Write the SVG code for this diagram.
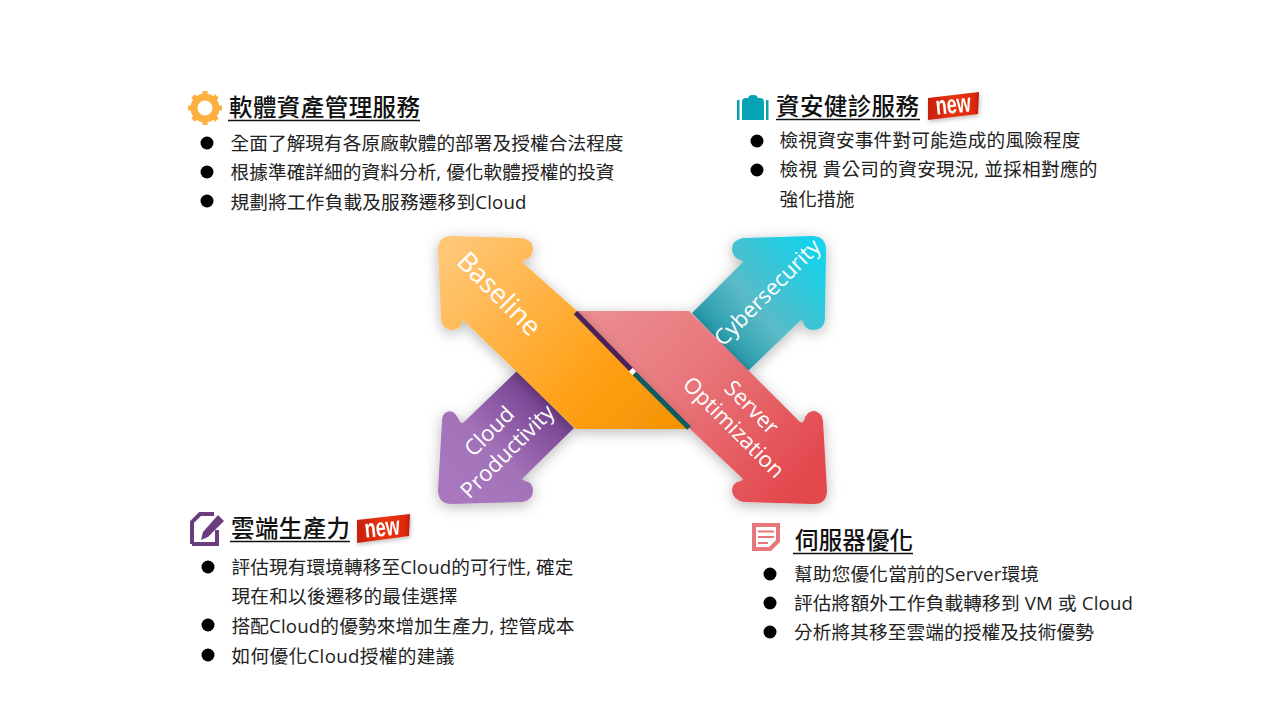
<svg xmlns="http://www.w3.org/2000/svg" width="1280" height="720" viewBox="0 0 1280 720">
<style>
.h{font-family:"Noto Sans CJK TC","Noto Sans",sans-serif;font-size:23.5px;font-weight:500;fill:#111}
.b{font-family:"Open Sans","Noto Sans CJK TC",sans-serif;font-size:18.67px;fill:#222}
.l{font-family:"Open Sans","Noto Sans",sans-serif;font-size:22px;fill:#fff;text-anchor:middle}
.u{stroke:#111;stroke-width:1.5}
.new{font-family:"Liberation Sans",sans-serif;font-size:26px;font-weight:700;fill:#fff;text-anchor:middle}
</style>
<defs>
<filter id="s" x="-30%" y="-30%" width="160%" height="160%"><feDropShadow dx="0" dy="3" stdDeviation="7" flood-color="#000" flood-opacity=".28"/></filter>
<filter id="bs" x="-20%" y="-40%" width="140%" height="180%"><feDropShadow dx="1" dy="2" stdDeviation="2" flood-color="#000" flood-opacity=".25"/></filter>
<linearGradient id="go" gradientUnits="userSpaceOnUse" x1="460" y1="240" x2="680" y2="440"><stop offset="0" stop-color="#ffc675"/><stop offset=".65" stop-color="#ff9f14"/><stop offset="1" stop-color="#f39200"/></linearGradient>
<linearGradient id="gr" gradientUnits="userSpaceOnUse" x1="585" y1="300" x2="800" y2="490"><stop offset="0" stop-color="#ec9094"/><stop offset=".45" stop-color="#e8777c"/><stop offset="1" stop-color="#e2474c"/></linearGradient>
<linearGradient id="gc" gradientUnits="userSpaceOnUse" x1="810" y1="245" x2="705" y2="335"><stop offset="0" stop-color="#16d2ea"/><stop offset=".6" stop-color="#5abac6"/><stop offset="1" stop-color="#1f95a6"/></linearGradient>
<linearGradient id="gp" gradientUnits="userSpaceOnUse" x1="460" y1="490" x2="550" y2="395"><stop offset="0" stop-color="#a877bd"/><stop offset=".4" stop-color="#a272b8"/><stop offset="1" stop-color="#713e8d"/></linearGradient>
<linearGradient id="gn" x1="0" y1="0" x2="1" y2="0"><stop offset="0" stop-color="#c9200c"/><stop offset=".5" stop-color="#e8330f"/><stop offset=".9" stop-color="#e02a0c"/><stop offset="1" stop-color="#b81a08"/></linearGradient>
</defs>

<g id="connectors">
<g id="arrow-cloud" filter="url(#s)"><path fill="url(#gp)" d="M517 371L464 422Q461 425 458 418Q453 409 447 412Q442 414 442 421L438 490Q438 504 452 504L522 502Q533 500 533 491Q533 482 525 481L522 479L574 428Z"/></g>
<g id="arrow-cyber" filter="url(#s)"><path fill="url(#gc)" d="M692 313L743 262L741 260Q732 258 732 249Q732 240 743 238L812 236Q826 236 826 250L825 319Q824 330 813 330Q805 330 803 322L801 320L748 371Z"/></g>
<g id="arrow-server" filter="url(#s)"><path fill="url(#gr)" d="M577 311L689 311L800 422Q804 424 805 417Q809 410 815 411Q822 413 823 421L827 490Q827 505 812 504L744 502Q733 500 732 491Q732 482 741 481L743 479L690 429L633 373Z"/></g>
<g id="arrow-baseline" filter="url(#s)"><path fill="url(#go)" d="M577 311L522 262L524 260Q533 258 533 249Q533 240 522 238L452 236Q438 236 438 250L441 319Q442 330 452 330Q460 330 462 322L463 320L576 429L689 429L633 373Z"/></g>
<path d="M575.500 312.500L631 369.500" stroke="#4b2257" stroke-width="5" fill="none"/>
<path d="M634.500 373.500L689 428" stroke="#0c5d63" stroke-width="5" fill="none"/>
<rect x="630" y="369" width="5" height="5" fill="#fff" transform="rotate(45 632.500 371.500)"/>
</g>

<text class="l" style="font-size:27px" transform="translate(499 294) rotate(45)" x="0" y="9">Baseline</text>
<text class="l" transform="translate(767 292) rotate(-45)" x="0" y="8">Cybersecurity</text>
<text class="l" transform="translate(489 431) rotate(-45)" x="0" y="8">Cloud</text>
<text class="l" transform="translate(507 451) rotate(-45)" x="0" y="8">Productivity</text>
<text class="l" transform="translate(752 407) rotate(45)" x="0" y="8">Server</text>
<text class="l" transform="translate(734 427) rotate(45)" x="0" y="8">Optimization</text>

<g id="node-baseline">
<g id="icon-gear"><circle cx="205" cy="108" r="11" fill="none" stroke="#fbb040" stroke-width="7"/><path stroke="#fbb040" stroke-width="5" d="M205 91V98M205 118V125M188 108H195M215 108H222M193 96L198 101M212 115L217 120M193 120L198 115M212 101L217 96"/></g>
<text class="h" x="229" y="116" textLength="191">軟體資產管理服務</text>
<line class="u" x1="228" y1="120.500" x2="420" y2="120.500"/>
<circle cx="207" cy="143" r="6.500" fill="#000"/><text class="b" x="230.500" y="150" textLength="393">全面了解現有各原廠軟體的部署及授權合法程度</text>
<circle cx="207" cy="172" r="6.500" fill="#000"/><text class="b" x="230.500" y="179" textLength="384">根據準確詳細的資料分析, 優化軟體授權的投資</text>
<circle cx="207" cy="201" r="6.500" fill="#000"/><text class="b" x="230.500" y="209" textLength="296">規劃將工作負載及服務遷移到Cloud</text>
</g>

<g id="node-cyber">
<g id="icon-case" fill="#06a3b5"><rect x="737" y="100" width="2.500" height="20"/><rect x="766" y="100" width="2.500" height="20"/><path d="M742 120V102Q742 98 746 98H748Q749 95 752 95H754Q757 95 758 98H760Q764 98 764 102V120Z"/></g>
<text class="h" x="776" y="115" textLength="143">資安健診服務</text>
<line class="u" x1="776" y1="119.500" x2="920" y2="119.500"/>
<g id="badge-1" filter="url(#bs)"><path fill="url(#gn)" d="M928 98L979 92L978 114L928 120Z"/><text class="new" transform="translate(954 113) rotate(-6) scale(.7 1)">new</text></g>
<circle cx="757" cy="141" r="6.500" fill="#000"/><text class="b" x="779.500" y="147" textLength="301">檢視資安事件對可能造成的風險程度</text>
<circle cx="757" cy="170" r="6.500" fill="#000"/><text class="b" x="779.500" y="176" textLength="318">檢視  貴公司的資安現況,  並採相對應的</text>
<text class="b" x="779.500" y="206" textLength="75">強化措施</text>
</g>

<g id="node-cloud">
<g id="icon-note"><path fill="none" stroke="#6a3d7f" stroke-width="4" d="M192 544V522L200 514H214M217 530V544H192"/><path fill="#6a3d7f" d="M218 515L224 521L208 537L201 540L203 532Z"/></g>
<text class="h" x="231" y="537" textLength="119">雲端生產力</text>
<line class="u" x1="230" y1="541.500" x2="350" y2="541.500"/>
<g id="badge-2" filter="url(#bs)"><path fill="url(#gn)" d="M357 520L410 514L409 536L357 543Z"/><text class="new" transform="translate(383 536) rotate(-6) scale(.7 1)">new</text></g>
<circle cx="208" cy="567" r="6.500" fill="#000"/><text class="b" x="231.500" y="574" textLength="342">評估現有環境轉移至Cloud的可行性, 確定</text>
<text class="b" x="231.500" y="603" textLength="226">現在和以後遷移的最佳選擇</text>
<circle cx="208" cy="625" r="6.500" fill="#000"/><text class="b" x="231.500" y="633" textLength="343">搭配Cloud的優勢來增加生產力, 控管成本</text>
<circle cx="208" cy="655" r="6.500" fill="#000"/><text class="b" x="231.500" y="663" textLength="223">如何優化Cloud授權的建議</text>
</g>

<g id="node-server">
<g id="icon-doc"><path fill="#e8777c" d="M752 523H780V542L771 551H752Z"/><path fill="#fff" d="M756 527H776V540L769 547H756Z"/><path stroke="#e8777c" stroke-width="1.800" d="M758 531.500H774M758 537H774M758 543H768"/></g>
<text class="h" x="795" y="549" textLength="118">伺服器優化</text>
<line class="u" x1="793" y1="553.500" x2="913" y2="553.500"/>
<circle cx="770" cy="574" r="6.500" fill="#000"/><text class="b" x="794" y="581" textLength="245">幫助您優化當前的Server環境</text>
<circle cx="770" cy="603" r="6.500" fill="#000"/><text class="b" x="794" y="610" textLength="339">評估將額外工作負載轉移到 VM 或 Cloud</text>
<circle cx="770" cy="632" r="6.500" fill="#000"/><text class="b" x="794" y="639" textLength="300">分析將其移至雲端的授權及技術優勢</text>
</g>
</svg>
